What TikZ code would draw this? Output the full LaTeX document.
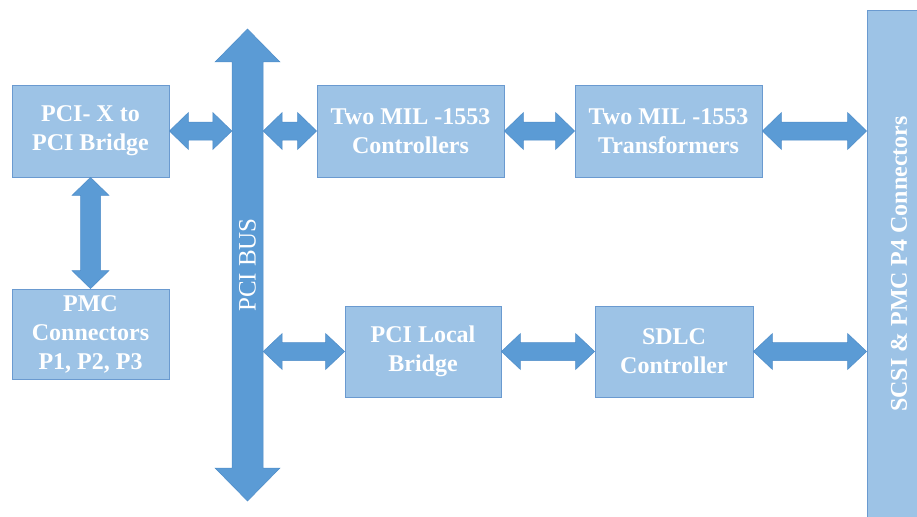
\documentclass[tikz,border=0pt]{standalone}
\usepackage{fontspec}
\usepackage{graphicx}
\setmainfont{Liberation Serif}
\usetikzlibrary{calc}

\definecolor{boxfill}{HTML}{9DC3E6}
\definecolor{boxline}{HTML}{6A9AD0}
\definecolor{arrowfill}{HTML}{5B9BD5}
\definecolor{arrowline}{HTML}{4E8CC8}

\tikzset{
  block/.style={draw=boxline, line width=0.8pt, fill=boxfill, text=white,
    font=\bfseries\fontsize{24}{29}\selectfont, align=center, inner sep=0pt},
  blockarrow/.style={fill=arrowfill, draw=arrowline, line width=0.5pt, line join=miter},
}

% horizontal double block arrow: left end, right end, shaft half, head half, head length
\newcommand\hdarrow[5]{%
  \filldraw[blockarrow] let \p1=#1, \p2=#2 in
    (\x1,\y1) -- (\x1+#5pt,\y1-#4pt) -- (\x1+#5pt,\y1-#3pt) -- (\x2-#5pt,\y1-#3pt)
    -- (\x2-#5pt,\y1-#4pt) -- (\x2,\y1) -- (\x2-#5pt,\y1+#4pt) -- (\x2-#5pt,\y1+#3pt)
    -- (\x1+#5pt,\y1+#3pt) -- (\x1+#5pt,\y1+#4pt) -- cycle;}
% vertical double block arrow: upper end, lower end, shaft half, head half, head length
\newcommand\vdarrow[5]{%
  \filldraw[blockarrow] let \p1=#1, \p2=#2 in
    (\x1,\y1) -- (\x1+#4pt,\y1-#5pt) -- (\x1+#3pt,\y1-#5pt) -- (\x1+#3pt,\y2+#5pt)
    -- (\x1+#4pt,\y2+#5pt) -- (\x1,\y2) -- (\x1-#4pt,\y2+#5pt) -- (\x1-#3pt,\y2+#5pt)
    -- (\x1-#3pt,\y1-#5pt) -- (\x1-#4pt,\y1-#5pt) -- cycle;}

\begin{document}
\begin{tikzpicture}[x=1pt, y=-1pt]
  \useasboundingbox (0,0) rectangle (917,516);
  \clip (0,0) rectangle (917,516);

  % blocks
  \node[block, minimum width=157pt, minimum height=92pt] (pcix) at (90.5,131) {PCI- X to\\PCI Bridge};
  \node[block, minimum width=157pt, minimum height=90pt] (pmc) at (90.5,334) {PMC\\Connectors\\P1, P2, P3};
  \node[block, minimum width=187pt, minimum height=92pt] (ctrl) at (410.5,131) {Two MIL -1553\\Controllers};
  \node[block, minimum width=187pt, minimum height=92pt] (xfmr) at (668.5,131) {Two MIL -1553\\Transformers};
  \node[block, minimum width=156pt, minimum height=91pt] (plb) at (423,351.5) {PCI Local\\Bridge};
  \node[block, minimum width=158pt, minimum height=91pt] (sdlc) at (674,351.5) {SDLC\\Controller};
  \node[block, minimum width=64pt, minimum height=508pt] (scsi) at (899,264)
    {\rotatebox{90}{SCSI \& PMC P4 Connectors}};

  % PCI bus
  \coordinate (bustop) at (247.5,29);
  \coordinate (busbot) at (247.5,501);
  \vdarrow{(bustop)}{(busbot)}{15.5}{32.5}{33}
  \node[minimum width=31pt, minimum height=406pt, inner sep=0pt, text=white,
    font=\fontsize{25}{30}\selectfont] (bus) at (247.5,265) {\rotatebox{90}{PCI BUS}};

  % links
  \vdarrow{(pcix.south)}{(pmc.north)}{10}{18.5}{18}
  \hdarrow{(pcix.east)}{(bus.west |- pcix.east)}{9}{18.5}{19}
  \hdarrow{(bus.east |- ctrl.west)}{(ctrl.west)}{9}{18.5}{19}
  \hdarrow{(ctrl.east)}{(xfmr.west)}{9}{18.5}{19}
  \hdarrow{(xfmr.east)}{(scsi.west |- xfmr.east)}{9}{18.5}{19}
  \hdarrow{(bus.east |- plb.west)}{(plb.west)}{9}{18}{19}
  \hdarrow{(plb.east)}{(sdlc.west)}{9}{18}{19}
  \hdarrow{(sdlc.east)}{(scsi.west |- sdlc.east)}{9}{18}{19}
\end{tikzpicture}
\end{document}
